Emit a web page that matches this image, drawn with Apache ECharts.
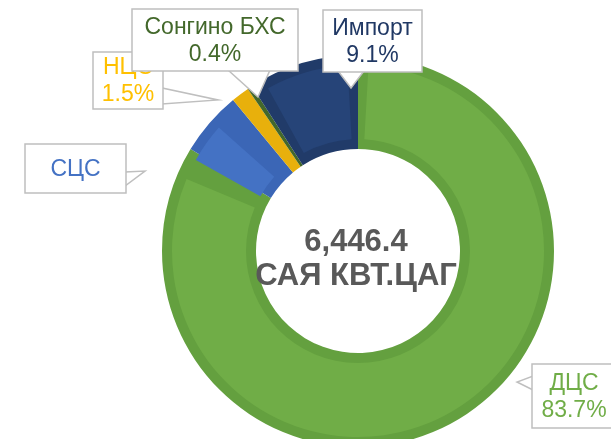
<!DOCTYPE html>
<html>
<head>
<meta charset="utf-8">
<script src="https://cdn.jsdelivr.net/npm/echarts@6/dist/echarts.min.js"></script>
<style>
html,body{margin:0;padding:0;background:#fff;}
#c{width:611px;height:439px;}
</style>
</head>
<body>
<div id="c"></div>
<script>
// ---- data ----
const categories = ['ДЦС', 'СЦС', 'НЦС', 'Сонгино БХС', 'Импорт'];
const shares = [83.7, 5.3, 1.5, 0.4, 9.1];
const showShare = [true, false, true, true, true];
const totalValue = '6,446.4';
const totalUnit = 'САЯ КВТ.ЦАГ';

// ---- styles ----
const fillColors = ['#70AD47', '#4472C4', '#E8B00C', '#43682B', '#264478'];
const bandColors = ['#64A03F', '#3B66B6', '#E8B00C', '#43682B', '#213B69'];
const bevelOn   = [true, true, false, false, true];
const textColors = ['#70AD47', '#4472C4', '#FFC000', '#43682B', '#203864'];

// callout boxes: [x, y, w, h], wedge base points and tip (decoration only)
const calloutLayout = {
  'НЦС':         {box: [93, 52, 70, 57],  wedge: [[162, 88], [162, 104], [218, 100]]},
  'Сонгино БХС': {box: [132, 9, 166, 62], wedge: [[228, 70], [270, 70], [258, 97]]},
  'Импорт':      {box: [323, 10, 99, 62], wedge: [[338, 71], [364, 71], [351, 88]]},
  'СЦС':         {box: [25, 144, 101, 49], wedge: [[125, 172], [125, 186], [145, 171]]},
  'ДЦС':         {box: [532, 364, 84, 64], wedge: [[533, 376], [533, 390], [517, 382]]}
};
const drawOrder = ['НЦС', 'Сонгино БХС', 'Импорт', 'СЦС', 'ДЦС'];

const chart = echarts.init(document.getElementById('c'), null, {renderer: 'canvas'});

const outerData = categories.map((n, i) => ({
  name: n, value: shares[i], itemStyle: {color: bandColors[i]}
}));
const innerData = categories.map((n, i) => ({
  name: n, value: shares[i],
  itemStyle: {color: bevelOn[i] ? fillColors[i] : 'rgba(0,0,0,0)'}
}));

const graphics = [];
drawOrder.forEach(name => {
  const i = categories.indexOf(name);
  const L = calloutLayout[name];
  const [bx, by, bw, bh] = L.box;
  const txt = showShare[i] ? name + '\n' + shares[i].toFixed(1) + '%' : name;
  graphics.push({
    type: 'polygon', z: 10,
    shape: {points: L.wedge},
    style: {fill: '#fff', stroke: '#BFBFBF', lineWidth: 1.5}
  });
  graphics.push({
    type: 'rect', z: 10,
    shape: {x: bx, y: by, width: name === 'ДЦС' ? bw + 10 : bw, height: bh},
    style: {fill: '#fff', stroke: '#BFBFBF', lineWidth: 1.5}
  });
  graphics.push({
    type: 'text', z: 10,
    style: {
      text: txt, x: bx + bw / 2, y: by + bh / 2 + 1,
      align: 'center', verticalAlign: 'middle',
      font: '23px "Liberation Sans", Arial, sans-serif',
      lineHeight: 27, fill: textColors[i]
    }
  });
});
graphics.push({
  type: 'text', z: 10,
  style: {
    text: totalValue + '\n' + totalUnit,
    x: 356, y: 259, align: 'center', verticalAlign: 'middle',
    font: 'bold 31px "Liberation Sans", Arial, sans-serif',
    lineHeight: 34, fill: '#595959'
  }
});

chart.setOption({
  animation: false,
  series: [
    {
      type: 'pie', z: 2, silent: true,
      center: [358, 251], radius: [102, 196],
      startAngle: 90, clockwise: true,
      label: {show: false}, labelLine: {show: false},
      data: outerData
    },
    {
      type: 'pie', z: 3, silent: true,
      center: [358, 251], radius: [112, 186],
      startAngle: 90, clockwise: true, padAngle: 6.5,
      label: {show: false}, labelLine: {show: false},
      data: innerData
    }
  ],
  graphic: graphics
});
</script>
</body>
</html>
